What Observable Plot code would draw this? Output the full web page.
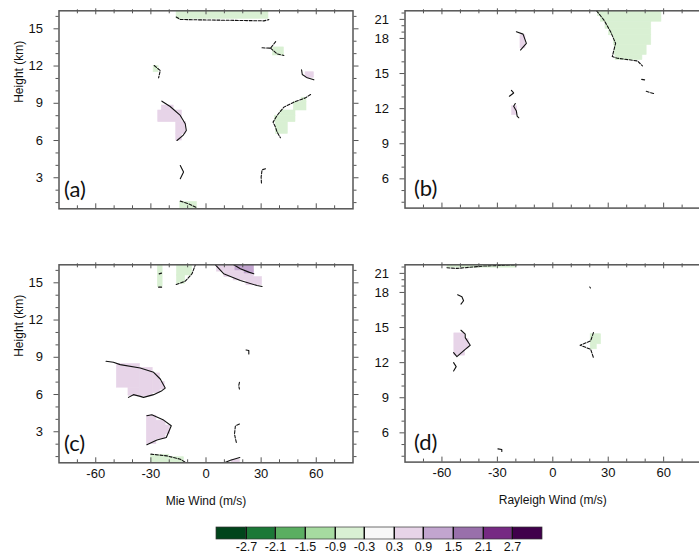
<!DOCTYPE html>
<html><head><meta charset="utf-8">
<script src="https://cdn.jsdelivr.net/npm/d3@7"></script>
<script src="https://cdn.jsdelivr.net/npm/@observablehq/plot@0.6"></script>
<style>
html,body{margin:0;padding:0;background:#fff;}
#root{position:relative;width:699px;height:559px;overflow:hidden;font-family:"Liberation Sans",Arial,sans-serif;}
#root > div{position:absolute;}
</style></head><body><div id="root"></div>
<script>
// ---- scale / tick data ----
const thresholds = [-2.7, -2.1, -1.5, -0.9, -0.3, 0.3, 0.9, 1.5, 2.1, 2.7];
const colors = ["#00441b","#1b7837","#5aae61","#a6dba0","#d9f0d3","#f7f7f7","#e7d4e8","#c2a5cf","#9970ab","#762a83","#40004b"];
const windTicks = [-60, -30, 0, 30, 60];
const windMinor = [-70, -50, -40, -20, -10, 10, 20, 40, 50, 70];
const mieHeightTicks = [3, 6, 9, 12, 15];
const mieHeightMinor = [1, 2, 4, 5, 7, 8, 10, 11, 13, 14, 16];
const rayHeightTicks = [6, 9, 12, 15, 18, 21];
const rayHeightMinor = [4, 5, 7, 8, 10, 11, 13, 14, 16, 17, 19, 20, 22];
const panelTags = ["(a)", "(b)", "(c)", "(d)"];
const xLabels = ["Mie Wind (m/s)", "Rayleigh Wind (m/s)"];
const yLabel = "Height (km)";

// ---- filled cells: [wind1, wind2, height1, height2, value] ----
const cellsA = [
  [-16, 34, 15.8, 16.45, -0.5],
  [36.5, 42.4, 12.85, 13.5, -0.5],
  [-28.5, -25.8, 11.5, 12.0, -0.5],
  [54.2, 58.7, 11.05, 11.5, 0.5],
  [-24, -17.6, 8.42, 8.82, 0.5],
  [-26, -13.1, 7.48, 8.42, 0.5],
  [-16.2, -10.9, 6.54, 7.48, 0.5],
  [-16.2, -13.1, 6.0, 6.54, 0.5],
  [47.8, 54.7, 8.42, 9.1, -0.5],
  [52, 54.7, 9.1, 9.45, -0.5],
  [40.5, 48.7, 8.0, 8.42, -0.5],
  [37.5, 48.7, 7.48, 8.0, -0.5],
  [38, 44.5, 6.54, 7.48, -0.5],
  [-14, -5, 0.5, 1.05, -0.5]
];
const cellsB = [
  [26, 58.8, 20.63, 22.35, -0.5],
  [24.5, 26, 21.5, 22.35, -0.5],
  [28.5, 53.3, 19.5, 20.63, -0.5],
  [30.5, 53.3, 18.5, 19.5, -0.5],
  [33, 53.3, 17.44, 18.5, -0.5],
  [33.5, 50.8, 16.59, 17.44, -0.5],
  [34, 48.5, 16.15, 16.59, -0.5],
  [-17.5, -14.8, 17.15, 18.5, 0.5],
  [-22, -19.3, 11.45, 12.2, 0.5]
];
const cellsC = [
  [-26.2, -23.6, 14.65, 16.45, -0.5],
  [-15.8, -7.6, 15.59, 16.45, -0.5],
  [-15.8, -11.3, 14.92, 15.59, -0.5],
  [6, 26, 15.9, 16.45, 0.6],
  [10, 26, 15.46, 15.9, 0.6],
  [15, 30.5, 15.19, 15.46, 0.6],
  [22, 30.5, 14.8, 15.19, 0.6],
  [16, 26, 16.0, 16.45, 1.2],
  [21, 26, 15.75, 16.0, 1.2],
  [-48.5, -36, 6.55, 8.45, 0.6],
  [-36, -29, 5.85, 8.15, 0.6],
  [-29, -25, 6.1, 7.7, 0.6],
  [-25, -22.5, 6.4, 7.0, 0.6],
  [-42.2, -36, 5.9, 6.55, 0.6],
  [-32.2, -27, 2.0, 4.3, 0.6],
  [-27, -22, 2.4, 3.9, 0.6],
  [-22, -19.5, 2.8, 3.5, 0.6],
  [-30, -20, 0.5, 1.15, -0.5],
  [-20, -12, 0.5, 0.95, -0.5],
  [14, 18.4, 0.5, 0.75, 0.6]
];
const cellsD = [
  [-57, -20, 21.9, 22.35, -0.5],
  [-53.3, -47.5, 12.6, 14.5, 0.6],
  [-47.5, -45.5, 13.2, 14.0, 0.6],
  [20.5, 26.1, 13.57, 14.43, -0.6],
  [20.5, 23.8, 13.14, 13.57, -0.6]
];

// ---- contour lines: [level, [[wind, height], ...]] ----
const linesA = [
  [-0.3, [[-16.2,15.95],[-14,15.75],[-3.1,15.72],[15.1,15.68],[31.5,15.64],[34.2,15.74]]],
  [-0.3, [[30.5,13.47],[35.1,13.44],[38.4,14.06]]],
  [-0.3, [[35.1,13.44],[38.7,12.98],[42.4,12.85]]],
  [-0.3, [[-28.2,12.04],[-24.9,11.64],[-25.8,11.05]]],
  [0.3, [[52,11.7],[52.4,11.32],[55.1,11.05],[58.7,10.89]]],
  [0.3, [[-24,9.17],[-19.5,8.74],[-14,8.02],[-11.3,7.35],[-10.7,6.81],[-12.5,6.41],[-15.8,6.0]]],
  [-0.3, [[56.9,9.71],[54.2,9.44],[47.8,9.09],[42.4,8.69],[38.7,8.02],[36.5,7.48],[37.8,7.08],[38.7,6.68],[40.5,6.22]]],
  [0.3, [[-14,3.99],[-12.2,3.46],[-14,2.92]]],
  [-0.3, [[32.4,3.72],[30.5,3.64],[30,3.05],[30.2,2.52]]],
  [-0.3, [[-14,1.12],[-9.5,0.9],[-4.9,0.58]]]
];
const linesB = [
  [-0.3, [[23.7,22.35],[27.7,20.89],[31.3,19.05],[34,17.58],[32.2,16.45],[34.9,16.31],[45.8,16.08],[48.5,15.66]]],
  [-0.3, [[48.1,14.5],[50.3,14.44]]],
  [-0.3, [[50.6,13.48],[54.8,13.28]]],
  [0.3, [[-19.7,19.05],[-16.1,18.68],[-14.3,17.58],[-17.5,17.01]]],
  [0.3, [[-22.4,13.56],[-21.2,13.34],[-23.5,13.06]]],
  [0.3, [[-20.3,12.44],[-21.2,12.21],[-19.7,11.79],[-19.3,11.36],[-18.4,11.22]]]
];
const linesC = [
  [-0.3, [[-25.5,15.72],[-24.2,15.78]]],
  [-0.3, [[-25.8,14.65],[-24,14.65]]],
  [-0.3, [[-16.2,14.86],[-11.3,15.13],[-7.6,15.73],[-5.8,16.45]]],
  [0.3, [[5.1,16.45],[9.6,15.73],[18.7,15.19],[27.8,14.78],[30.5,14.7]]],
  [0.9, [[15.1,16.45],[18.7,16.13],[23.3,15.86],[26,15.73]]],
  [0.3, [[-54.4,8.68],[-50.4,8.6],[-46.7,8.41],[-35.8,8.14],[-28.5,7.79],[-24.9,7.25],[-22.2,6.52],[-24,6.31],[-28.5,5.99],[-34,5.77],[-35.8,5.85],[-39.5,5.99],[-42.2,5.77]]],
  [0.3, [[-32.2,4.29],[-29.5,4.37],[-23.1,3.94],[-18.9,3.48],[-21.6,2.54],[-26.7,2.33],[-32.2,1.95]]],
  [0.3, [[21.8,9.59],[23.3,9.54],[23.3,9.27]]],
  [-0.3, [[18.2,6.98],[17.8,6.71],[18.2,6.44]]],
  [-0.3, [[18.2,3.62],[16,3.48],[15.5,2.81],[16.5,2.14]]],
  [-0.3, [[-30,1.2],[-21.3,1.06],[-14,0.79],[-10.4,0.47]]],
  [0.3, [[10,0.5],[13.3,0.71],[18.4,0.93]]]
];
const linesD = [
  [-0.3, [[-57.3,21.88],[-51.9,21.78],[-37.5,22.15],[-19.5,22.35]]],
  [0.3, [[-51.5,17.8],[-49.2,17.63],[-48.3,17.29],[-49.7,17.0]]],
  [0.3, [[-49.7,14.77],[-47.4,14.43],[-47.4,14.14],[-44.7,13.49],[-47.4,13.14],[-51.9,12.51],[-53.7,12.86]]],
  [0.3, [[-53.7,12.0],[-52.3,11.66],[-53.7,11.29]]],
  [-0.3, [[22,14.57],[20.5,13.86],[14.8,13.49],[20.5,13.14],[22,12.43]]],
  [0.3, [[20,18.85],[20.4,18.7]]],
  [0.3, [[-29.7,4.63],[-27.6,4.57],[-27.6,4.4]]]
];

// Rayleigh height axis is compressed above 18 km (by this factor)
const upperCompression = 0.543;
const rayleighHeight = h => (h <= 18 ? h : 18 + (h - 18) * upperCompression);

// ---- layout ----
const panels = [
  {left: 0, top: 0, width: 370, height: 232, xRange: [58.5, 352.5], yDomain: [0.5, 16.45], yRange: [208.3, 10.3], yTransform: undefined,
   yTicks: mieHeightTicks, yMinor: mieHeightMinor, cells: cellsA, lines: linesA, tag: panelTags[0], tagDx: 5, xLabel: null, yLabel: yLabel},
  {left: 354, top: 0, width: 360, height: 232, xRange: [50.5, 346.1], yDomain: [3.5, rayleighHeight(22.35)], yRange: [207.6, 10.3], yTransform: rayleighHeight,
   yTicks: rayHeightTicks, yMinor: rayHeightMinor, cells: cellsB, lines: linesB, tag: panelTags[1], tagDx: 9, xLabel: null, yLabel: null},
  {left: 0, top: 254, width: 370, height: 252, xRange: [58.5, 352.5], yDomain: [0.5, 16.45], yRange: [208.3, 10.3], yTransform: undefined,
   yTicks: mieHeightTicks, yMinor: mieHeightMinor, cells: cellsC, lines: linesC, tag: panelTags[2], tagDx: 5, xLabel: xLabels[0], yLabel: yLabel},
  {left: 354, top: 254, width: 360, height: 252, xRange: [50.5, 346.1], yDomain: [3.5, rayleighHeight(22.35)], yRange: [207.6, 10.3], yTransform: rayleighHeight,
   yTicks: rayHeightTicks, yMinor: rayHeightMinor, cells: cellsD, lines: linesD, tag: panelTags[3], tagDx: 9, xLabel: xLabels[1], yLabel: null}
];

const root = document.getElementById("root");
const AX = "#555";
const fmt = d => String(d);
const blank = () => "";

function flatten(lines) {
  const out = [];
  lines.forEach(([level, pts], i) => pts.forEach(([x, y]) => out.push({x, y, id: i, level})));
  return out;
}

panels.forEach(p => {
  const cells = p.cells.map(([x1, x2, y1, y2, v]) => ({x1, x2, y1, y2, v}));
  const pts = flatten(p.lines);
  const yBottom = p.yRange[0], yTop = p.yRange[1];
  const marks = [
    Plot.rect(cells, {x1: "x1", x2: "x2", y1: "y1", y2: "y2", fill: "v", stroke: "v", strokeWidth: 0.6, clip: true}),
    Plot.line(pts.filter(d => d.level > 0), {x: "x", y: "y", z: "id", stroke: "#111", strokeWidth: 1.1, clip: true}),
    Plot.line(pts.filter(d => d.level < 0), {x: "x", y: "y", z: "id", stroke: "#111", strokeWidth: 1.1, strokeDasharray: "3,1.6", clip: true}),
    Plot.frame({stroke: AX, strokeWidth: 1.5}),
    Plot.axisY(p.yTicks, {anchor: "left", tickSize: 5, tickFormat: blank, label: null, stroke: AX}),
    Plot.axisY(p.yMinor, {anchor: "left", tickSize: 3, tickFormat: blank, label: null, stroke: AX}),
    Plot.axisY(p.yTicks, {anchor: "right", tickSize: 5, tickFormat: blank, label: null, stroke: AX}),
    Plot.axisY(p.yMinor, {anchor: "right", tickSize: 3, tickFormat: blank, label: null, stroke: AX}),
    Plot.axisY(p.yTicks, {anchor: "left", tickSize: 0, tickPadding: 16, tickFormat: fmt, label: null, fontSize: 13, fill: "#111"}),
    Plot.axisX(windTicks, {anchor: "top", tickSize: 6, dy: 3, tickFormat: blank, label: null, stroke: AX}),
    Plot.axisX(windMinor, {anchor: "top", tickSize: 4, dy: 2, tickFormat: blank, label: null, stroke: AX}),
    Plot.axisX(windTicks, {anchor: "bottom", tickSize: 5, dy: -5, tickFormat: blank, label: null, stroke: AX}),
    Plot.axisX(windMinor, {anchor: "bottom", tickSize: 3, dy: -3, tickFormat: blank, label: null, stroke: AX}),
    Plot.text([p.tag], {frameAnchor: "bottom-left", dx: p.tagDx, dy: -12, textAnchor: "start", lineAnchor: "bottom", fontSize: 22, fontFamily: "Lato, 'Open Sans', sans-serif", fill: "#111"})
  ];
  if (p.xLabel) {
    marks.push(Plot.axisX(windTicks, {anchor: "bottom", tickSize: 0, tickPadding: 6, tickFormat: fmt, label: null, fontSize: 13, fill: "#111"}));
    marks.push(Plot.text([p.xLabel], {frameAnchor: "bottom", dy: 42, lineAnchor: "bottom", fontSize: 12, fill: "#111"}));
  }
  if (p.yLabel) {
    marks.push(Plot.text([p.yLabel], {frameAnchor: "left", dx: -40, dy: -7, rotate: -90, fontSize: 12, fill: "#111"}));
  }
  const yScale = {domain: p.yDomain, range: p.yRange};
  if (p.yTransform) yScale.transform = p.yTransform;
  const chart = Plot.plot({
    width: p.width,
    height: p.height,
    marginLeft: p.xRange[0],
    marginRight: p.width - p.xRange[1],
    marginTop: yTop,
    marginBottom: p.height - yBottom,
    style: {background: "transparent", overflow: "visible", fontFamily: "'Liberation Sans', Arial, sans-serif", fontSize: "13px", maxWidth: "none"},
    x: {domain: [-80, 80], range: p.xRange},
    y: yScale,
    color: {type: "threshold", domain: thresholds, range: colors},
    marks
  });
  const holder = document.createElement("div");
  holder.style.left = p.left + "px";
  holder.style.top = p.top + "px";
  holder.appendChild(chart);
  root.appendChild(holder);
});

// ---- legend ----
const legend = Plot.legend({
  color: {type: "threshold", domain: thresholds, range: colors},
  width: 342, height: 30, marginTop: 0, marginBottom: 18, marginLeft: 8, marginRight: 8,
  tickSize: 0, label: null, tickFormat: fmt,
  style: {fontSize: "12.5px", fontFamily: "'Liberation Sans', Arial, sans-serif", background: "transparent", color: "#111", overflow: "visible"}
});
legend.querySelectorAll("rect").forEach(r => { r.setAttribute("stroke", "#333"); r.setAttribute("stroke-width", "0.7"); });
legend.querySelectorAll("text").forEach(t => { t.setAttribute("font-size", "12.5"); t.style.fontSize = "12.5px"; });
const lh = document.createElement("div");
lh.style.left = "208px";
lh.style.top = "527px";
lh.appendChild(legend);
root.appendChild(lh);
</script>
</body></html>
